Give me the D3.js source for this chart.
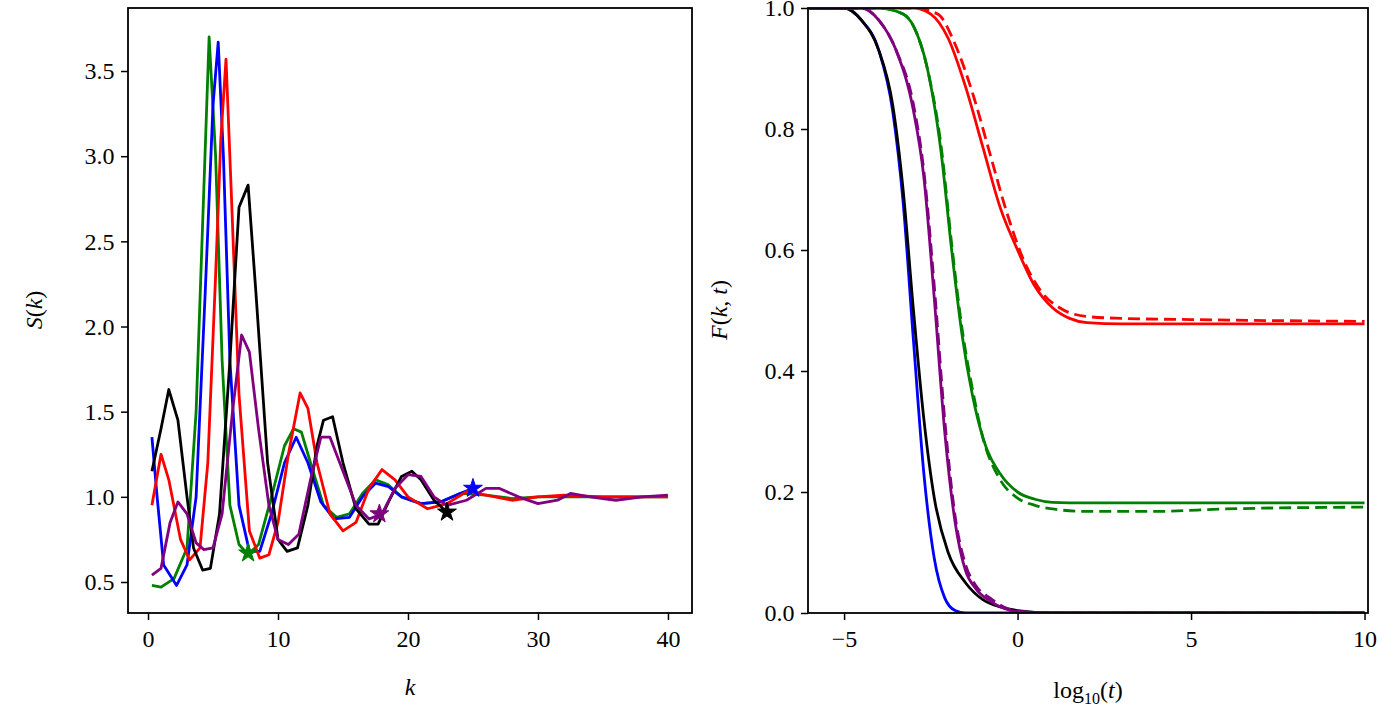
<!DOCTYPE html>
<html>
<head>
<meta charset="utf-8">
<script src="https://cdn.jsdelivr.net/npm/d3@7"></script>
<style>
  body { margin: 0; background: #fff; }
  svg text { font-family: "Liberation Serif", "DejaVu Serif", serif !important; }
</style>
</head>
<body>
<svg id="chart" width="1400" height="719"></svg>
<script>
// ---- left panel: S(k) ----
const kGreen = [0.3,1,2,3,3.7,4.2,4.7,5.2,5.7,6.3,7,7.7,8.5,9.5,10.5,11.2,11.8,12.5,13.5,14.5,15.5,16.5,17.5,18.5,19.5,21,22.5,24,26,28,30,34,40];
const sGreen = [0.48,0.47,0.52,0.7,1.5,2.6,3.7,3.0,1.8,0.95,0.72,0.66,0.72,1.0,1.3,1.4,1.38,1.2,0.95,0.88,0.9,1.02,1.1,1.07,1.0,0.96,0.97,1.02,1.01,0.99,1.0,1.0,1.0];
const kBlue = [0.3,0.7,1.2,2.2,3,3.7,4.4,5.0,5.4,5.8,6.3,7,7.8,8.6,9.5,10.5,11.4,12.3,13.3,14.3,15.5,16.5,17.5,18.5,19.5,21,22.5,24,25];
const sBlue = [1.35,1.0,0.6,0.48,0.6,1.0,2.2,3.3,3.67,3.0,1.8,0.95,0.68,0.68,0.9,1.2,1.35,1.2,0.97,0.87,0.88,1.0,1.08,1.06,1.0,0.96,0.97,1.02,1.05];
const kRed = [0.3,1.0,1.6,2.5,3.2,4,4.6,5.2,5.6,6,6.4,7,7.8,8.6,9.3,10,10.8,11.7,12.3,13,14,15,16,17,18,19,20,21.5,23,24.5,26,28,30,32,35,40];
const sRed = [0.95,1.25,1.1,0.75,0.63,0.7,1.2,2.3,3.1,3.57,2.8,1.6,0.8,0.64,0.66,0.85,1.25,1.61,1.52,1.2,0.9,0.8,0.85,1.05,1.16,1.1,1.0,0.93,0.96,1.03,1.01,0.98,1.0,1.01,1.0,1.0];
const kBlack = [0.3,1,1.6,2.3,3,3.5,4.2,4.8,5.5,6.3,7,7.7,8.3,9.2,10,10.7,11.5,12.3,13,13.5,14.2,15,16,17,17.7,18.5,19.5,20.3,21,22,23];
const sBlack = [1.15,1.4,1.63,1.45,1.0,0.7,0.57,0.58,0.9,1.8,2.7,2.83,2.2,1.2,0.75,0.68,0.7,0.95,1.3,1.45,1.47,1.2,0.93,0.84,0.84,0.97,1.12,1.15,1.1,0.98,0.91];
const kPurple = [0.3,1,1.7,2.3,3,3.7,4.3,5,5.7,6.5,7.2,7.8,8.5,9.3,10,10.8,11.6,12.5,13.3,14,15,16,17,18,19,20,21,22,23,24.5,26,27,28.5,30,31.5,32.5,34,36,38,40];
const sPurple = [0.54,0.58,0.85,0.97,0.9,0.73,0.69,0.7,0.9,1.5,1.95,1.85,1.4,0.95,0.75,0.72,0.78,1.1,1.35,1.35,1.15,0.95,0.87,0.9,1.05,1.13,1.12,1.0,0.95,0.98,1.05,1.05,1.0,0.96,0.98,1.02,1.0,0.98,1.0,1.01];
// star markers [k, S]
const starGreen = [7.7, 0.67], starBlue = [25, 1.05], starBlack = [23, 0.91], starPurple = [17.8, 0.9];

const kTicks = [0, 10, 20, 30, 40];
const sTicks = [0.5, 1.0, 1.5, 2.0, 2.5, 3.0, 3.5];

// ---- right panel: F(k,t) ----
const tRed = [-6,-3,-2.5,-2,-1.5,-1,-0.5,0,0.5,1,1.5,2,3,10];
const fRed = [1,1,0.99,0.95,0.87,0.77,0.67,0.6,0.54,0.505,0.487,0.48,0.478,0.478];
const tRedD = [-6,-3,-2.3,-1.8,-1.3,-0.8,-0.3,0.2,0.7,1.2,2,3,5,10];
const fRedD = [1,1,0.99,0.94,0.86,0.76,0.66,0.58,0.53,0.505,0.49,0.487,0.485,0.482];
const tGreen = [-6,-4,-3.3,-3,-2.6,-2.2,-1.9,-1.6,-1.3,-1,-0.5,0,0.5,1,2,10];
const fGreen = [1,1,0.99,0.97,0.9,0.76,0.6,0.46,0.36,0.29,0.23,0.2,0.188,0.183,0.182,0.182];
const tGreenD = [-6,-4,-3.3,-3,-2.6,-2.2,-1.9,-1.6,-1.3,-1,-0.5,0,0.5,1,2,4,6,10];
const fGreenD = [1,1,0.99,0.97,0.9,0.77,0.61,0.47,0.37,0.29,0.22,0.19,0.178,0.172,0.168,0.168,0.172,0.175];
const tBlue = [-6,-5,-4.5,-4,-3.6,-3.3,-3,-2.7,-2.4,-2.1,-1.8,-1.5,10];
const fBlue = [1,1,0.98,0.93,0.83,0.68,0.45,0.23,0.09,0.025,0.004,0,0];
const tBlack = [-6,-5,-4.5,-4,-3.6,-3.3,-3,-2.7,-2.4,-2,-1.5,-1,-0.5,0,1,10];
const fBlack = [1,1,0.98,0.93,0.84,0.7,0.5,0.32,0.19,0.1,0.05,0.022,0.01,0.004,0,0];
const tPurple = [-6,-4.5,-4,-3.5,-3,-2.7,-2.4,-2.1,-1.8,-1.5,-1.2,-0.8,-0.4,0,1,10];
const fPurple = [1,1,0.98,0.93,0.83,0.72,0.52,0.3,0.15,0.07,0.04,0.02,0.008,0.002,0,0];
const fPurpleD = [1,1,0.98,0.93,0.84,0.73,0.54,0.32,0.16,0.08,0.045,0.025,0.01,0.003,0,0];

const tTicks = [-5, 0, 5, 10];
const fTicks = [0.0, 0.2, 0.4, 0.6, 0.8, 1.0];

const svg = d3.select("#chart");
const fontSize = 24;
const lw = 2.8;

function panel(left, right, top, bottom, xDom, yDom) {
  const x = d3.scaleLinear().domain(xDom).range([left, right]);
  const y = d3.scaleLinear().domain(yDom).range([bottom, top]);
  return { x, y };
}

function drawAxes(p, xTicks, yTicks, xFmt, yFmt) {
  const gx = svg.append("g").attr("transform", `translate(0,${p.y.range()[0]})`)
    .call(d3.axisBottom(p.x).tickValues(xTicks).tickFormat(xFmt).tickSize(7).tickSizeOuter(0));
  const gy = svg.append("g").attr("transform", `translate(${p.x.range()[0]},0)`)
    .call(d3.axisLeft(p.y).tickValues(yTicks).tickFormat(yFmt).tickSize(7).tickSizeOuter(0));
  [gx, gy].forEach(g => {
    g.attr("font-family", "Liberation Serif").attr("font-size", fontSize);
    g.select(".domain").remove();
    g.selectAll("line").attr("stroke", "#000").attr("stroke-width", 1.5);
    g.selectAll("text").attr("fill", "#000");
  });
  gx.selectAll("text").attr("dy", "1.0em");
  gy.selectAll("text").attr("dx", "-0.15em");
  const [x0, x1] = p.x.range(), [y1, y0] = p.y.range();
  svg.append("rect").attr("x", x0).attr("y", y0).attr("width", x1 - x0).attr("height", y1 - y0)
    .attr("fill", "none").attr("stroke", "#000").attr("stroke-width", 1.8);
}

function clip(id, p) {
  const [x0, x1] = p.x.range(), [y1, y0] = p.y.range();
  svg.append("clipPath").attr("id", id).append("rect")
    .attr("x", x0).attr("y", y0).attr("width", x1 - x0).attr("height", y1 - y0);
}

function drawLine(p, xs, ys, color, clipId, dash, curve) {
  const line = d3.line().x(d => p.x(d[0])).y(d => p.y(d[1])).curve(curve || d3.curveMonotoneX);
  svg.append("path").datum(d3.zip(xs, ys)).attr("d", line)
    .attr("fill", "none").attr("stroke", color).attr("stroke-width", lw)
    .attr("stroke-linejoin", "round")
    .attr("stroke-dasharray", dash || null)
    .attr("clip-path", `url(#${clipId})`);
}

function star(p, pt, color) {
  svg.append("path").attr("d", d3.symbol(d3.symbolStar, 110)())
    .attr("transform", `translate(${p.x(pt[0])},${p.y(pt[1])})`)
    .attr("fill", color).attr("stroke", color).attr("stroke-width", 1);
}

// left
const L = panel(128, 692, 8, 613, [-1.54, 41.85], [0.318, 3.87]);
clip("clipL", L);
drawAxes(L, kTicks, sTicks, d3.format(".0f"), d3.format(".1f"));
drawLine(L, kGreen, sGreen, "#008000", "clipL", null, d3.curveLinear);
drawLine(L, kBlue, sBlue, "#0000ff", "clipL", null, d3.curveLinear);
drawLine(L, kRed, sRed, "#ff0000", "clipL", null, d3.curveLinear);
drawLine(L, kBlack, sBlack, "#000000", "clipL", null, d3.curveLinear);
drawLine(L, kPurple, sPurple, "#800080", "clipL", null, d3.curveLinear);
star(L, starGreen, "#008000");
star(L, starBlue, "#0000ff");
star(L, starBlack, "#000000");
star(L, starPurple, "#800080");

// right
const R = panel(808, 1368, 8, 613, [-6.04, 10.1], [0, 1]);
clip("clipR", R);
drawLine(R, tRed, fRed, "#ff0000", "clipR");
drawLine(R, tRedD, fRedD, "#ff0000", "clipR", "12,6");
drawLine(R, tGreen, fGreen, "#008000", "clipR");
drawLine(R, tGreenD, fGreenD, "#008000", "clipR", "12,6");
drawLine(R, tBlue, fBlue, "#0000ff", "clipR");
drawLine(R, tBlack, fBlack, "#000000", "clipR");
drawLine(R, tPurple, fPurple, "#800080", "clipR");
drawLine(R, tPurple, fPurpleD, "#800080", "clipR", "12,6");
drawAxes(R, tTicks, fTicks, d => d3.format(".0f")(d).replace("-", "\u2212"), d3.format(".1f"));

// labels
const lab = (x, y, rot) => svg.append("text").attr("text-anchor", "middle")
  .attr("transform", `translate(${x},${y})${rot ? " rotate(-90)" : ""}`)
  .attr("font-size", fontSize);

const s1 = lab(42, 310, true);
s1.append("tspan").text("S").style("font-style", "italic");
s1.append("tspan").text("(");
s1.append("tspan").text("k").style("font-style", "italic");
s1.append("tspan").text(")");

lab(410, 695).append("tspan").text("k").style("font-style", "italic");

const f1 = lab(727, 310, true);
f1.append("tspan").text("F").style("font-style", "italic");
f1.append("tspan").text("(");
f1.append("tspan").text("k").style("font-style", "italic");
f1.append("tspan").text(", ");
f1.append("tspan").text("t").style("font-style", "italic");
f1.append("tspan").text(")");

const g1 = lab(1088, 698);
g1.append("tspan").text("log");
g1.append("tspan").text("10").attr("dy", 6).attr("font-size", 16);
g1.append("tspan").text("(").attr("dy", -6);
g1.append("tspan").text("t").style("font-style", "italic");
g1.append("tspan").text(")");
</script>
</body>
</html>
